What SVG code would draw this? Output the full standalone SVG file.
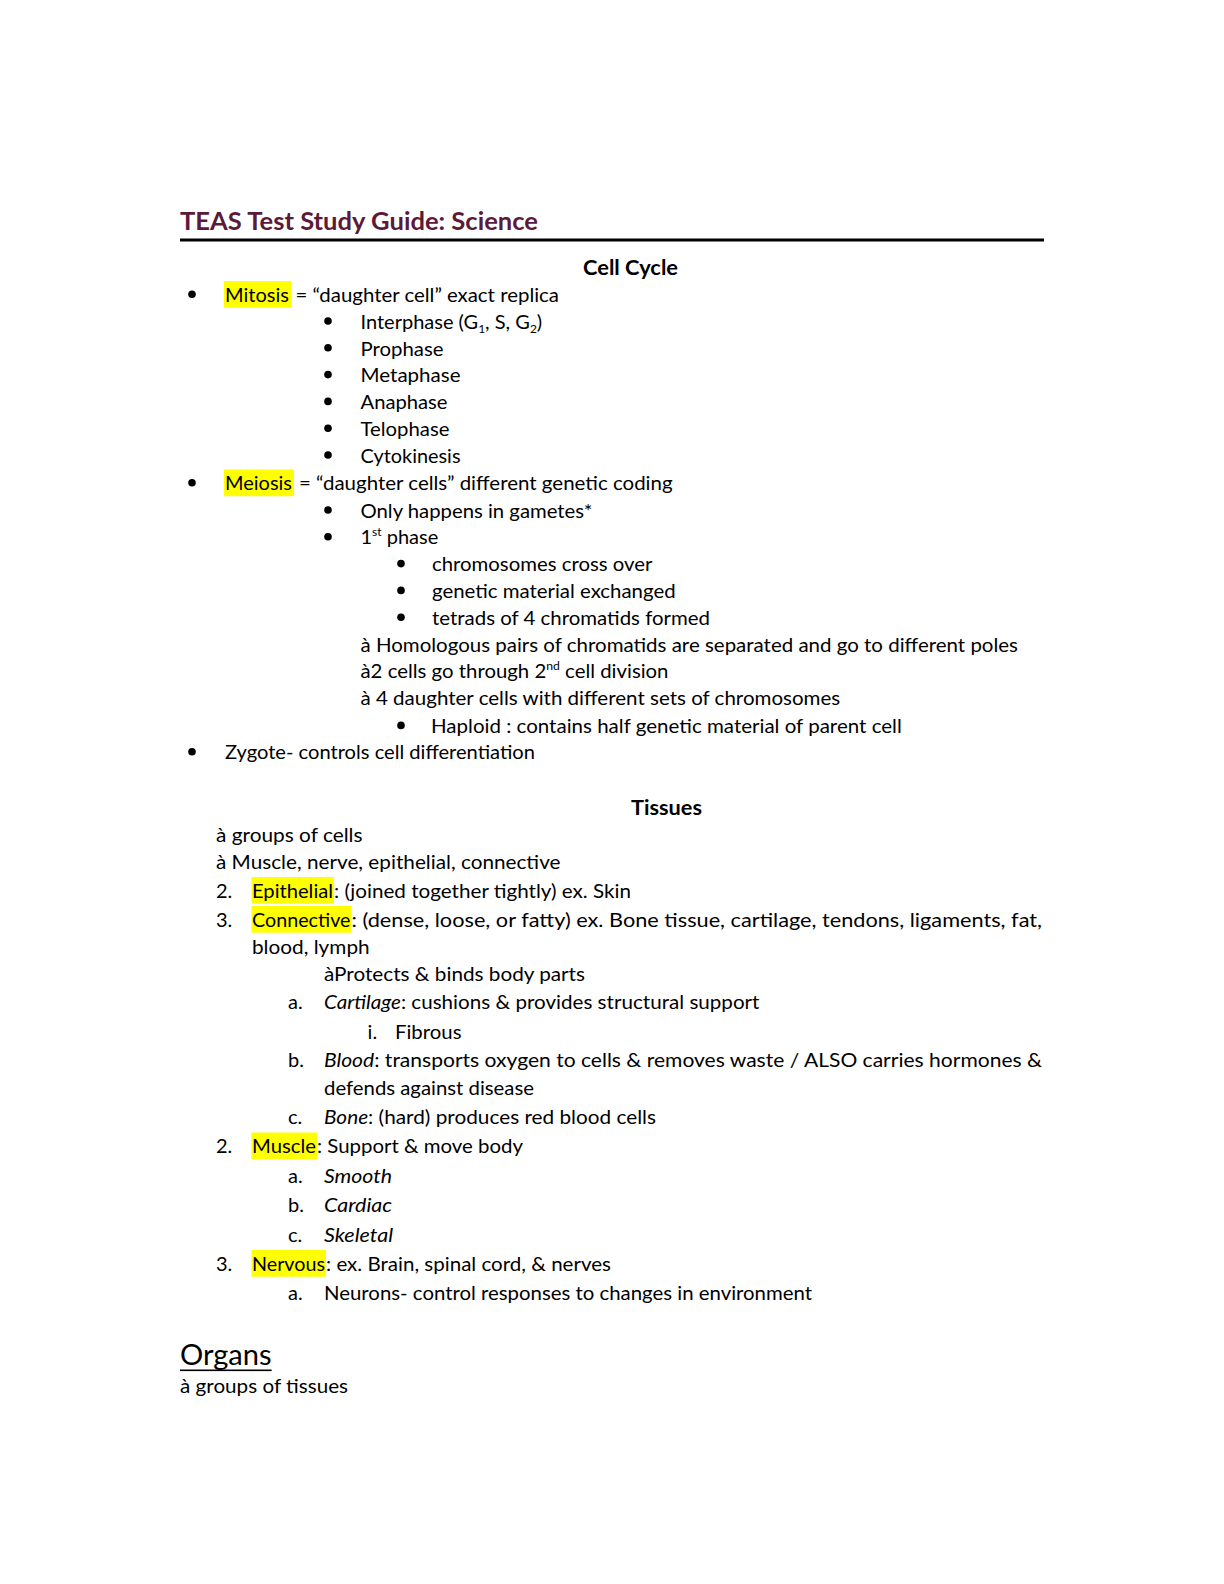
<svg xmlns="http://www.w3.org/2000/svg" width="1224" height="1584" viewBox="0 0 1224 1584">
<style>
text{font-family:Lato,"Open Sans","Liberation Sans",sans-serif;font-size:20px;fill:#000}
.b{font-weight:bold}
.t{font-weight:bold;font-size:25px;fill:#5b1a37}
.i{font-style:italic}
.hl{fill:#ffff00}
.bul{fill:#000}
.sup{font-size:12px}
</style>
<rect width="1224" height="1584" fill="#fff"/>
<g id="header">
<text class="t" x="180" y="230" textLength="358" lengthAdjust="spacingAndGlyphs">TEAS Test Study Guide: Science</text>
<rect x="180" y="238.5" width="864" height="3" fill="#000"/>
</g>
<g id="cell-cycle">
<text class="b" x="583" y="275" textLength="95" lengthAdjust="spacingAndGlyphs">Cell Cycle</text>
<rect class="hl" x="224" y="281" width="67" height="26.7"/>
<rect class="hl" x="224" y="469.5" width="70" height="26.7"/>
<circle class="bul" cx="192" cy="294.3" r="3.8"/>
<circle class="bul" cx="192" cy="482.7" r="3.8"/>
<circle class="bul" cx="192" cy="751.8" r="3.8"/>
<circle class="bul" cx="328" cy="321" r="3.8"/>
<circle class="bul" cx="328" cy="347.8" r="3.8"/>
<circle class="bul" cx="328" cy="374.6" r="3.8"/>
<circle class="bul" cx="328" cy="401.4" r="3.8"/>
<circle class="bul" cx="328" cy="428.2" r="3.8"/>
<circle class="bul" cx="328" cy="455" r="3.8"/>
<circle class="bul" cx="328" cy="510" r="3.8"/>
<circle class="bul" cx="328" cy="536.8" r="3.8"/>
<circle class="bul" cx="401" cy="563.6" r="3.8"/>
<circle class="bul" cx="401" cy="590.4" r="3.8"/>
<circle class="bul" cx="401" cy="617.2" r="3.8"/>
<circle class="bul" cx="401" cy="725.4" r="3.8"/>
<text x="225" y="301.7" textLength="64" lengthAdjust="spacingAndGlyphs">Mitosis</text>
<text x="295.5" y="301.7" textLength="263.5" lengthAdjust="spacingAndGlyphs">= “daughter cell” exact replica</text>
<text x="360.5" y="328.5">Interphase (G<tspan class="sup" dy="4">1</tspan><tspan dy="-4">, S, G</tspan><tspan class="sup" dy="4">2</tspan><tspan dy="-4">)</tspan></text>
<text x="360.5" y="355.8" textLength="83" lengthAdjust="spacingAndGlyphs">Prophase</text>
<text x="360.5" y="382.4" textLength="100" lengthAdjust="spacingAndGlyphs">Metaphase</text>
<text x="360.5" y="409.1" textLength="87" lengthAdjust="spacingAndGlyphs">Anaphase</text>
<text x="360.5" y="435.8" textLength="89" lengthAdjust="spacingAndGlyphs">Telophase</text>
<text x="360.5" y="462.5" textLength="100" lengthAdjust="spacingAndGlyphs">Cytokinesis</text>
<text x="225" y="490.1" textLength="67" lengthAdjust="spacingAndGlyphs">Meiosis</text>
<text x="299" y="490.1" textLength="373.6" lengthAdjust="spacingAndGlyphs">= “daughter cells” different genetic coding</text>
<text x="360.5" y="517.5" textLength="232" lengthAdjust="spacingAndGlyphs">Only happens in gametes*</text>
<text x="360.5" y="544.3">1<tspan class="sup" dy="-8">st</tspan><tspan dy="8"> phase</tspan></text>
<text x="432" y="571.1" textLength="220.4" lengthAdjust="spacingAndGlyphs">chromosomes cross over</text>
<text x="432" y="597.9" textLength="243.6" lengthAdjust="spacingAndGlyphs">genetic material exchanged</text>
<text x="432" y="624.7" textLength="278" lengthAdjust="spacingAndGlyphs">tetrads of 4 chromatids formed</text>
<text x="360.5" y="651.5" textLength="657.5" lengthAdjust="spacingAndGlyphs">à Homologous pairs of chromatids are separated and go to different poles</text>
<text x="360.5" y="678.3" textLength="308" lengthAdjust="spacingAndGlyphs">à2 cells go through 2<tspan class="sup" dy="-8">nd</tspan><tspan dy="8"> cell division</tspan></text>
<text x="360.5" y="705.1" textLength="479.7" lengthAdjust="spacingAndGlyphs">à 4 daughter cells with different sets of chromosomes</text>
<text x="431" y="732.9" textLength="470.8" lengthAdjust="spacingAndGlyphs">Haploid : contains half genetic material of parent cell</text>
<text x="225" y="759" textLength="310" lengthAdjust="spacingAndGlyphs">Zygote- controls cell differentiation</text>
</g>
<g id="tissues">
<text class="b" x="631" y="815" textLength="71" lengthAdjust="spacingAndGlyphs">Tissues</text>
<text x="216" y="841.5" textLength="146.5" lengthAdjust="spacingAndGlyphs">à groups of cells</text>
<text x="216" y="868.8" textLength="344.5" lengthAdjust="spacingAndGlyphs">à Muscle, nerve, epithelial, connective</text>
<rect class="hl" x="251.5" y="877" width="82.5" height="26.7"/>
<text x="216" y="897.5">2.</text>
<text x="252" y="897.5" textLength="81" lengthAdjust="spacingAndGlyphs">Epithelial</text>
<text x="334" y="897.5" textLength="297" lengthAdjust="spacingAndGlyphs">: (joined together tightly) ex. Skin</text>
<rect class="hl" x="251.5" y="906" width="100" height="26.7"/>
<text x="216" y="926.5">3.</text>
<text x="252" y="926.5" textLength="98.5" lengthAdjust="spacingAndGlyphs">Connective</text>
<text x="351.5" y="926.5" textLength="690.5" lengthAdjust="spacingAndGlyphs">: (dense,  loose,  or  fatty)  ex.  Bone  tissue,  cartilage,  tendons,  ligaments,  fat,</text>
<text x="252" y="954" textLength="117.6" lengthAdjust="spacingAndGlyphs">blood, lymph</text>
<text x="324" y="981" textLength="261" lengthAdjust="spacingAndGlyphs">àProtects &amp; binds body parts</text>
<text x="288" y="1009">a.</text>
<text x="324" y="1009" textLength="435.5" lengthAdjust="spacingAndGlyphs"><tspan class="i">Cartilage</tspan>: cushions &amp; provides structural support</text>
<text x="367.6" y="1038.5">i.</text>
<text x="395" y="1038.5" textLength="66.5" lengthAdjust="spacingAndGlyphs">Fibrous</text>
<text x="288" y="1067.4">b.</text>
<text x="324" y="1067.4" textLength="718" lengthAdjust="spacingAndGlyphs"><tspan class="i">Blood</tspan>: transports oxygen to cells &amp; removes waste  / ALSO carries hormones &amp;</text>
<text x="324" y="1095" textLength="210" lengthAdjust="spacingAndGlyphs">defends against disease</text>
<text x="288" y="1123.5">c.</text>
<text x="324" y="1123.5" textLength="332" lengthAdjust="spacingAndGlyphs"><tspan class="i">Bone</tspan>: (hard) produces red blood cells</text>
<rect class="hl" x="251.5" y="1132.5" width="65.5" height="26.7"/>
<text x="216" y="1153">2.</text>
<text x="252" y="1153" textLength="64" lengthAdjust="spacingAndGlyphs">Muscle</text>
<text x="317" y="1153" textLength="206" lengthAdjust="spacingAndGlyphs">: Support &amp; move body</text>
<text x="288" y="1183">a.</text>
<text class="i" x="324" y="1183" textLength="68" lengthAdjust="spacingAndGlyphs">Smooth</text>
<text x="288" y="1212">b.</text>
<text class="i" x="324" y="1212" textLength="68" lengthAdjust="spacingAndGlyphs">Cardiac</text>
<text x="288" y="1241.5">c.</text>
<text class="i" x="324" y="1241.5" textLength="69" lengthAdjust="spacingAndGlyphs">Skeletal</text>
<rect class="hl" x="251.5" y="1250" width="74.5" height="26.7"/>
<text x="216" y="1270.5">3.</text>
<text x="252" y="1270.5" textLength="73" lengthAdjust="spacingAndGlyphs">Nervous</text>
<text x="326" y="1270.5" textLength="285" lengthAdjust="spacingAndGlyphs">: ex. Brain, spinal cord, &amp; nerves</text>
<text x="288" y="1300">a.</text>
<text x="324" y="1300" textLength="488" lengthAdjust="spacingAndGlyphs">Neurons- control responses to changes in environment</text>
</g>
<g id="organs">
<text x="180" y="1365" style="font-size:29px" textLength="91.6" lengthAdjust="spacingAndGlyphs">Organs</text>
<rect x="180" y="1369.5" width="91.6" height="1.6" fill="#000"/>
<text x="180" y="1393" textLength="168" lengthAdjust="spacingAndGlyphs">à groups of tissues</text>
</g>
</svg>
